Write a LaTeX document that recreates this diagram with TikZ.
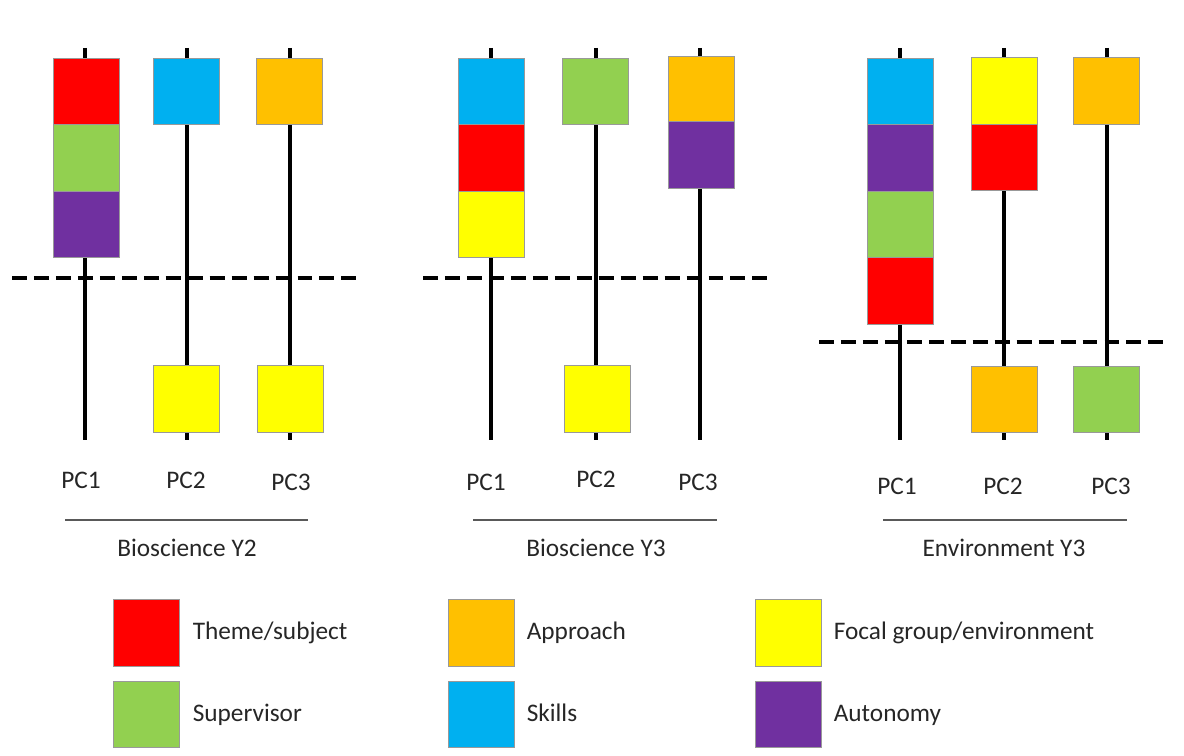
\documentclass[tikz,border=0pt]{standalone}
\usepackage{fontspec}
\setmainfont{Carlito}
\usetikzlibrary{positioning}

\definecolor{theme}{HTML}{FF0000}
\definecolor{supervisor}{HTML}{92D050}
\definecolor{autonomy}{HTML}{7030A0}
\definecolor{skills}{HTML}{00B0F0}
\definecolor{approach}{HTML}{FFC000}
\definecolor{focal}{HTML}{FFFF00}

\tikzset{
  pcbox/.style={draw=black!40, line width=0.5pt, minimum width=1.32cm, minimum height=1.33cm, inner sep=0pt},
  pcline/.style={line width=2.3pt},
  cutoff/.style={line width=2pt, dash pattern=on 8.5pt off 4pt},
  groupline/.style={draw=black!65, line width=1.1pt},
  lbl/.style={font=\fontsize{14.4}{17}\selectfont, text=black!85, inner sep=0pt, text height=0.95em, text depth=0.16em}
}

\begin{document}
\begin{tikzpicture}[x=0.02cm, y=-0.02cm]
        \useasboundingbox (0,0) rectangle (1184,756);

        % Bioscience Y2
        \coordinate (y2c1t) at (85,48);
        \coordinate (y2c1b) at (85,440);
        \coordinate (y2c2t) at (187,48);
        \coordinate (y2c2b) at (187,440);
        \coordinate (y2c3t) at (290,48);
        \coordinate (y2c3b) at (290,440);
        \draw[pcline] (y2c1t) -- (y2c1b);
        \draw[pcline] (y2c2t) -- (y2c2b);
        \draw[pcline] (y2c3t) -- (y2c3b);

        \node[pcbox, fill=theme] (y2c1a) at (86,91.25) {};
        \node[pcbox, fill=supervisor] (y2c1b) at (86,157.75) {};
        \node[pcbox, fill=autonomy] (y2c1c) at (86,224.25) {};
        \node[pcbox, fill=skills] (y2c2a) at (186,91.25) {};
        \node[pcbox, fill=focal] (y2c2z) at (186,399) {};
        \node[pcbox, fill=approach] (y2c3a) at (289,91.25) {};
        \node[pcbox, fill=focal] (y2c3z) at (290,399) {};

        \coordinate (y2cutl) at (12,278);
        \coordinate (y2cutr) at (356,278);
        \draw[cutoff] (y2cutl) -- (y2cutr);

        \node[lbl] (y2pc1) at (81,482) {PC1};
        \node[lbl] (y2pc2) at (186,482) {PC2};
        \node[lbl] (y2pc3) at (291,484) {PC3};
        \coordinate (y2rulel) at (65,520);
        \coordinate (y2ruler) at (308,520);
        \draw[groupline] (y2rulel) -- (y2ruler);
        \node[lbl] (y2name) at (187,550) {Bioscience Y2};

        % Bioscience Y3
        \coordinate (y3c1t) at (491,48);
        \coordinate (y3c1b) at (491,440);
        \coordinate (y3c2t) at (596,48);
        \coordinate (y3c2b) at (596,440);
        \coordinate (y3c3t) at (700,48);
        \coordinate (y3c3b) at (700,440);
        \draw[pcline] (y3c1t) -- (y3c1b);
        \draw[pcline] (y3c2t) -- (y3c2b);
        \draw[pcline] (y3c3t) -- (y3c3b);

        \node[pcbox, fill=skills] (y3c1a) at (491,91.25) {};
        \node[pcbox, fill=theme] (y3c1b) at (491,157.75) {};
        \node[pcbox, fill=focal] (y3c1c) at (491,224.25) {};
        \node[pcbox, fill=supervisor] (y3c2a) at (595,91.25) {};
        \node[pcbox, fill=focal] (y3c2z) at (597,399) {};
        \node[pcbox, fill=approach] (y3c3a) at (701,89.5) {};
        \node[pcbox, fill=autonomy] (y3c3b) at (701,155) {};

        \coordinate (y3cutl) at (423,278);
        \coordinate (y3cutr) at (768,278);
        \draw[cutoff] (y3cutl) -- (y3cutr);

        \node[lbl] (y3pc1) at (486,484) {PC1};
        \node[lbl] (y3pc2) at (596,481) {PC2};
        \node[lbl] (y3pc3) at (698,484) {PC3};
        \coordinate (y3rulel) at (473,520);
        \coordinate (y3ruler) at (717,520);
        \draw[groupline] (y3rulel) -- (y3ruler);
        \node[lbl] (y3name) at (596,550) {Bioscience Y3};

        % Environment Y3
        \coordinate (e3c1t) at (900,48);
        \coordinate (e3c1b) at (900,440);
        \coordinate (e3c2t) at (1004,48);
        \coordinate (e3c2b) at (1004,440);
        \coordinate (e3c3t) at (1107,48);
        \coordinate (e3c3b) at (1107,440);
        \draw[pcline] (e3c1t) -- (e3c1b);
        \draw[pcline] (e3c2t) -- (e3c2b);
        \draw[pcline] (e3c3t) -- (e3c3b);

        \node[pcbox, fill=skills] (e3c1a) at (900.5,91.25) {};
        \node[pcbox, fill=autonomy] (e3c1b) at (900.5,157.75) {};
        \node[pcbox, fill=supervisor] (e3c1c) at (900.5,224.25) {};
        \node[pcbox, fill=theme] (e3c1d) at (900.5,290.75) {};
        \node[pcbox, fill=focal] (e3c2a) at (1004.5,91) {};
        \node[pcbox, fill=theme] (e3c2b) at (1004.5,157.5) {};
        \node[pcbox, fill=approach] (e3c2z) at (1004.5,399.5) {};
        \node[pcbox, fill=approach] (e3c3a) at (1106.5,91) {};
        \node[pcbox, fill=supervisor] (e3c3z) at (1106.5,399.5) {};

        \coordinate (e3cutl) at (819,342);
        \coordinate (e3cutr) at (1165,342);
        \draw[cutoff] (e3cutl) -- (e3cutr);

        \node[lbl] (e3pc1) at (897,488) {PC1};
        \node[lbl] (e3pc2) at (1003,488) {PC2};
        \node[lbl] (e3pc3) at (1111,488) {PC3};
        \coordinate (e3rulel) at (883,520);
        \coordinate (e3ruler) at (1127,520);
        \draw[groupline] (e3rulel) -- (e3ruler);
        \node[lbl] (e3name) at (1004,550) {Environment Y3};

        % key
        \node[pcbox, fill=theme] (keytheme) at (146,633) {};
        \node[pcbox, fill=supervisor] (keysuper) at (146,714.5) {};
        \node[pcbox, fill=approach] (keyappr) at (481,633) {};
        \node[pcbox, fill=skills] (keyskill) at (481,714.5) {};
        \node[pcbox, fill=focal] (keyfocal) at (788,633) {};
        \node[pcbox, fill=autonomy] (keyauto) at (788,714.5) {};

        \node[lbl, right=0.26cm of keytheme] (txttheme) {Theme/subject};
        \node[lbl, right=0.26cm of keysuper] (txtsuper) {Supervisor};
        \node[lbl, right=0.24cm of keyappr] (txtappr) {Approach};
        \node[lbl, right=0.24cm of keyskill] (txtskill) {Skills};
        \node[lbl, right=0.24cm of keyfocal] (txtfocal) {Focal group/environment};
        \node[lbl, right=0.24cm of keyauto] (txtauto) {Autonomy};
    \end{tikzpicture}
\end{document}
